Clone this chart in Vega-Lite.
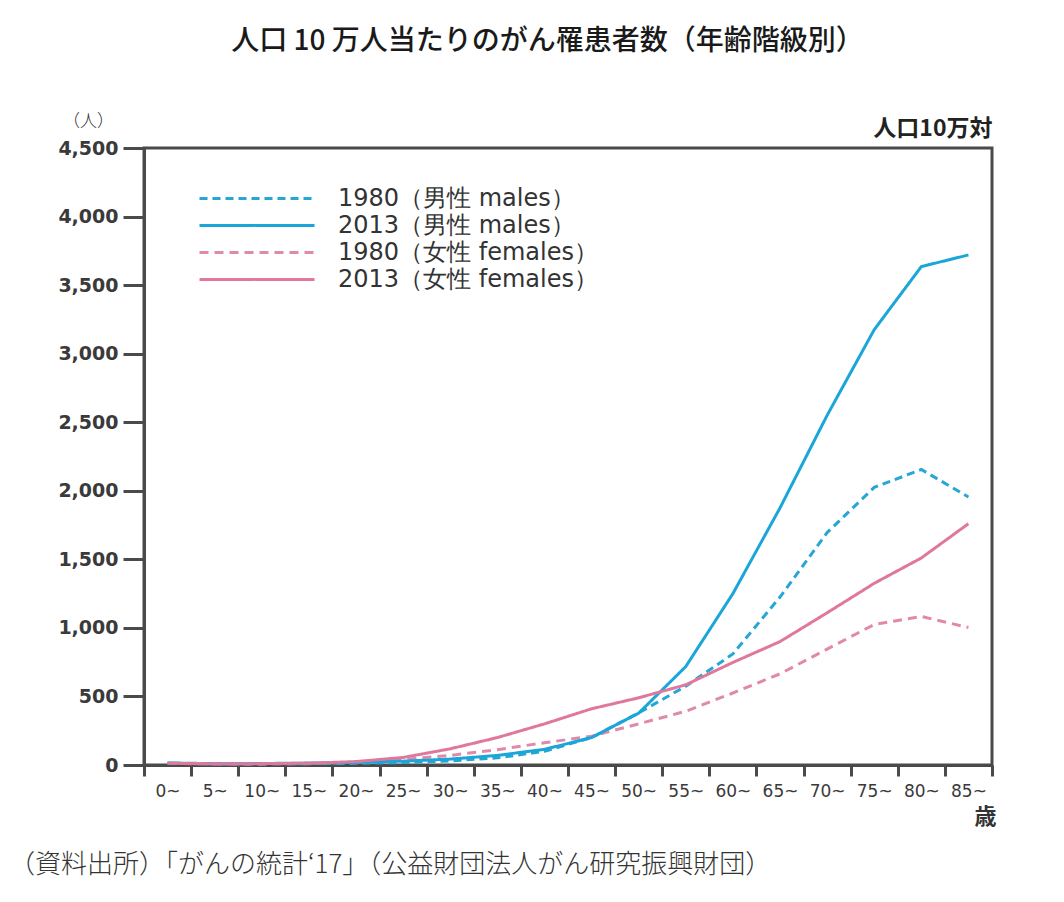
{
  "$schema": "https://vega.github.io/schema/vega-lite/v6.json",
  "width": 848,
  "height": 617,
  "autosize": {"type": "none"},
  "padding": {"left": 144, "top": 148, "right": 72, "bottom": 137},
  "background": "#ffffff",
  "title": {
    "text": "（資料出所）「がんの統計‘17」（公益財団法人がん研究振興財団）",
    "orient": "bottom",
    "anchor": "start",
    "frame": "group",
    "dx": -135,
    "offset": 25,
    "font": "Noto Sans CJK JP",
    "fontSize": 26,
    "fontWeight": 300,
    "color": "#333333"
  },
  "data": {
    "values": [
      {"age": "0~", "year": "1980", "series": "1980（男性 males）", "value": 12},
      {"age": "5~", "year": "1980", "series": "1980（男性 males）", "value": 8},
      {"age": "10~", "year": "1980", "series": "1980（男性 males）", "value": 8},
      {"age": "15~", "year": "1980", "series": "1980（男性 males）", "value": 10},
      {"age": "20~", "year": "1980", "series": "1980（男性 males）", "value": 12},
      {"age": "25~", "year": "1980", "series": "1980（男性 males）", "value": 18},
      {"age": "30~", "year": "1980", "series": "1980（男性 males）", "value": 30},
      {"age": "35~", "year": "1980", "series": "1980（男性 males）", "value": 52},
      {"age": "40~", "year": "1980", "series": "1980（男性 males）", "value": 100},
      {"age": "45~", "year": "1980", "series": "1980（男性 males）", "value": 200},
      {"age": "50~", "year": "1980", "series": "1980（男性 males）", "value": 380},
      {"age": "55~", "year": "1980", "series": "1980（男性 males）", "value": 575},
      {"age": "60~", "year": "1980", "series": "1980（男性 males）", "value": 810},
      {"age": "65~", "year": "1980", "series": "1980（男性 males）", "value": 1225},
      {"age": "70~", "year": "1980", "series": "1980（男性 males）", "value": 1695},
      {"age": "75~", "year": "1980", "series": "1980（男性 males）", "value": 2025},
      {"age": "80~", "year": "1980", "series": "1980（男性 males）", "value": 2155},
      {"age": "85~", "year": "1980", "series": "1980（男性 males）", "value": 1955},
      {"age": "0~", "year": "2013", "series": "2013（男性 males）", "value": 15},
      {"age": "5~", "year": "2013", "series": "2013（男性 males）", "value": 10},
      {"age": "10~", "year": "2013", "series": "2013（男性 males）", "value": 11},
      {"age": "15~", "year": "2013", "series": "2013（男性 males）", "value": 14},
      {"age": "20~", "year": "2013", "series": "2013（男性 males）", "value": 19},
      {"age": "25~", "year": "2013", "series": "2013（男性 males）", "value": 28},
      {"age": "30~", "year": "2013", "series": "2013（男性 males）", "value": 43},
      {"age": "35~", "year": "2013", "series": "2013（男性 males）", "value": 70},
      {"age": "40~", "year": "2013", "series": "2013（男性 males）", "value": 114},
      {"age": "45~", "year": "2013", "series": "2013（男性 males）", "value": 200},
      {"age": "50~", "year": "2013", "series": "2013（男性 males）", "value": 378},
      {"age": "55~", "year": "2013", "series": "2013（男性 males）", "value": 718},
      {"age": "60~", "year": "2013", "series": "2013（男性 males）", "value": 1250},
      {"age": "65~", "year": "2013", "series": "2013（男性 males）", "value": 1875},
      {"age": "70~", "year": "2013", "series": "2013（男性 males）", "value": 2550},
      {"age": "75~", "year": "2013", "series": "2013（男性 males）", "value": 3175},
      {"age": "80~", "year": "2013", "series": "2013（男性 males）", "value": 3635},
      {"age": "85~", "year": "2013", "series": "2013（男性 males）", "value": 3720},
      {"age": "0~", "year": "1980", "series": "1980（女性 females）", "value": 12},
      {"age": "5~", "year": "1980", "series": "1980（女性 females）", "value": 8},
      {"age": "10~", "year": "1980", "series": "1980（女性 females）", "value": 8},
      {"age": "15~", "year": "1980", "series": "1980（女性 females）", "value": 10},
      {"age": "20~", "year": "1980", "series": "1980（女性 females）", "value": 20},
      {"age": "25~", "year": "1980", "series": "1980（女性 females）", "value": 40},
      {"age": "30~", "year": "1980", "series": "1980（女性 females）", "value": 70},
      {"age": "35~", "year": "1980", "series": "1980（女性 females）", "value": 112},
      {"age": "40~", "year": "1980", "series": "1980（女性 females）", "value": 162},
      {"age": "45~", "year": "1980", "series": "1980（女性 females）", "value": 210},
      {"age": "50~", "year": "1980", "series": "1980（女性 females）", "value": 300},
      {"age": "55~", "year": "1980", "series": "1980（女性 females）", "value": 392},
      {"age": "60~", "year": "1980", "series": "1980（女性 females）", "value": 525},
      {"age": "65~", "year": "1980", "series": "1980（女性 females）", "value": 665},
      {"age": "70~", "year": "1980", "series": "1980（女性 females）", "value": 845},
      {"age": "75~", "year": "1980", "series": "1980（女性 females）", "value": 1025},
      {"age": "80~", "year": "1980", "series": "1980（女性 females）", "value": 1083},
      {"age": "85~", "year": "1980", "series": "1980（女性 females）", "value": 1003},
      {"age": "0~", "year": "2013", "series": "2013（女性 females）", "value": 13},
      {"age": "5~", "year": "2013", "series": "2013（女性 females）", "value": 9},
      {"age": "10~", "year": "2013", "series": "2013（女性 females）", "value": 10},
      {"age": "15~", "year": "2013", "series": "2013（女性 females）", "value": 13},
      {"age": "20~", "year": "2013", "series": "2013（女性 females）", "value": 25},
      {"age": "25~", "year": "2013", "series": "2013（女性 females）", "value": 55},
      {"age": "30~", "year": "2013", "series": "2013（女性 females）", "value": 118},
      {"age": "35~", "year": "2013", "series": "2013（女性 females）", "value": 200},
      {"age": "40~", "year": "2013", "series": "2013（女性 females）", "value": 300},
      {"age": "45~", "year": "2013", "series": "2013（女性 females）", "value": 410},
      {"age": "50~", "year": "2013", "series": "2013（女性 females）", "value": 490},
      {"age": "55~", "year": "2013", "series": "2013（女性 females）", "value": 585},
      {"age": "60~", "year": "2013", "series": "2013（女性 females）", "value": 748},
      {"age": "65~", "year": "2013", "series": "2013（女性 females）", "value": 900},
      {"age": "70~", "year": "2013", "series": "2013（女性 females）", "value": 1110},
      {"age": "75~", "year": "2013", "series": "2013（女性 females）", "value": 1325},
      {"age": "80~", "year": "2013", "series": "2013（女性 females）", "value": 1510},
      {"age": "85~", "year": "2013", "series": "2013（女性 females）", "value": 1760}
    ]
  },
  "layer": [
    {
      "transform": [{"filter": "datum.year === '1980'"}],
      "mark": {"type": "line"},
      "encoding": {
        "x": {
          "field": "age",
          "type": "ordinal",
          "sort": null,
          "scale": {"type": "band", "paddingInner": 0, "paddingOuter": 0},
          "axis": {
            "orient": "bottom",
            "title": "歳",
            "tickBand": "extent",
            "tickSize": 11,
            "labelPadding": 7,
            "labelAngle": 0,
            "labelFont": "DejaVu Sans",
            "labelFontSize": 17,
            "labelColor": "#3a3a3a",
            "labelOverlap": false,
            "labelBound": false,
            "labelFlush": false,
            "titleX": 841,
            "titleY": 51,
            "titleAlign": "center",
            "titleBaseline": "middle",
            "titleAnchor": null,
            "titleFont": "Noto Sans CJK JP",
            "titleFontSize": 22,
            "titleFontWeight": "bold",
            "titleColor": "#333333"
          }
        },
        "y": {
          "field": "value",
          "type": "quantitative",
          "scale": {"domain": [0, 4500], "nice": false},
          "axis": {
            "orient": "left",
            "title": "（人）",
            "values": [0, 500, 1000, 1500, 2000, 2500, 3000, 3500, 4000, 4500],
            "format": ",d",
            "tickSize": 21,
            "labelPadding": 5,
            "labelFont": "DejaVu Sans",
            "labelFontWeight": "bold",
            "labelFontSize": 19,
            "labelColor": "#3a3a3a",
            "titleAngle": 0,
            "titleX": -56,
            "titleY": -27,
            "titleAlign": "center",
            "titleBaseline": "middle",
            "titleAnchor": null,
            "titleFont": "Noto Sans CJK JP",
            "titleFontSize": 17,
            "titleFontWeight": 300,
            "titleColor": "#333333"
          }
        },
        "color": {
          "field": "series",
          "type": "nominal",
          "scale": {
            "domain": ["1980（男性 males）", "2013（男性 males）", "1980（女性 females）", "2013（女性 females）"],
            "range": ["#26a6d4", "#1aa6d8", "#e08aab", "#e0789e"]
          },
          "legend": {"title": null}
        },
        "strokeDash": {
          "field": "series",
          "type": "nominal",
          "scale": {
            "domain": ["1980（男性 males）", "2013（男性 males）", "1980（女性 females）", "2013（女性 females）"],
            "range": [[8, 5], [1, 0], [9, 6], [1, 0]]
          },
          "legend": {"title": null}
        },
        "strokeWidth": {
          "field": "series",
          "type": "nominal",
          "scale": {
            "domain": ["1980（男性 males）", "2013（男性 males）", "1980（女性 females）", "2013（女性 females）"],
            "range": [3, 3, 2.5, 2.2]
          },
          "legend": null
        }
      }
    },
    {
      "transform": [{"filter": "datum.year === '2013'"}],
      "mark": {"type": "line"},
      "encoding": {
        "x": {
          "field": "age",
          "type": "ordinal",
          "sort": null,
          "scale": {"type": "band", "paddingInner": 0, "paddingOuter": 0},
          "axis": {
            "orient": "top",
            "domain": false,
            "ticks": false,
            "labels": false,
            "title": "人口 10 万人当たりのがん罹患者数（年齢階級別）",
            "titleX": 403,
            "titleY": -107,
            "titleAlign": "center",
            "titleBaseline": "middle",
            "titleAnchor": null,
            "titleFont": "Noto Sans CJK JP",
            "titleFontSize": 28,
            "titleFontWeight": 500,
            "titleColor": "#1a1a1a"
          }
        },
        "y": {
          "field": "value",
          "type": "quantitative",
          "scale": {"domain": [0, 4500], "nice": false},
          "axis": {
            "orient": "right",
            "domain": false,
            "ticks": false,
            "labels": false,
            "title": "人口10万対",
            "titleAngle": 0,
            "titleX": 0,
            "titleY": -20,
            "titleAlign": "right",
            "titleBaseline": "middle",
            "titleAnchor": null,
            "titleFont": "Noto Sans CJK JP",
            "titleFontSize": 23,
            "titleFontWeight": "bold",
            "titleColor": "#222222"
          }
        },
        "color": {
          "field": "series",
          "type": "nominal",
          "scale": {
            "domain": ["1980（男性 males）", "2013（男性 males）", "1980（女性 females）", "2013（女性 females）"],
            "range": ["#26a6d4", "#1aa6d8", "#e08aab", "#e0789e"]
          },
          "legend": {"title": null}
        },
        "strokeDash": {
          "field": "series",
          "type": "nominal",
          "scale": {
            "domain": ["1980（男性 males）", "2013（男性 males）", "1980（女性 females）", "2013（女性 females）"],
            "range": [[8, 5], [1, 0], [9, 6], [1, 0]]
          },
          "legend": {"title": null}
        },
        "strokeWidth": {
          "field": "series",
          "type": "nominal",
          "scale": {
            "domain": ["1980（男性 males）", "2013（男性 males）", "1980（女性 females）", "2013（女性 females）"],
            "range": [3, 3, 2.5, 2.2]
          },
          "legend": null
        }
      }
    }
  ],
  "resolve": {"axis": {"x": "independent", "y": "independent"}},
  "config": {
    "font": "DejaVu Sans",
    "view": {"stroke": "#4a4a4a", "strokeWidth": 3},
    "axis": {
      "grid": false,
      "domainColor": "#4a4a4a",
      "domainWidth": 3,
      "tickColor": "#4a4a4a",
      "tickWidth": 3
    },
    "legend": {
      "orient": "none",
      "legendX": 54,
      "legendY": 37,
      "padding": 0,
      "symbolType": "stroke",
      "symbolSize": 13225,
      "symbolStrokeWidth": 3,
      "clipHeight": 27,
      "rowPadding": 0,
      "labelOffset": 22,
      "labelFont": "DejaVu Sans",
      "labelFontSize": 24,
      "labelColor": "#333333",
      "labelLimit": 500
    }
  }
}
